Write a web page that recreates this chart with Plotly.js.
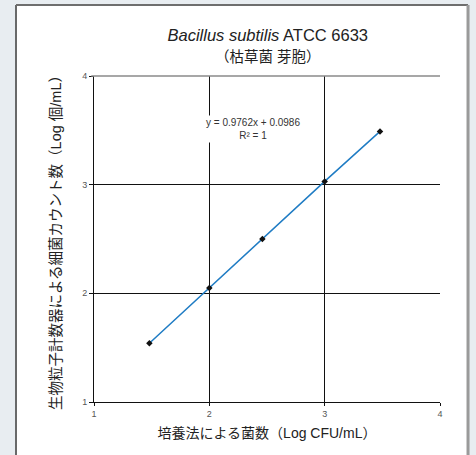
<!DOCTYPE html>
<html>
<head>
<meta charset="utf-8">
<script src="https://cdn.plot.ly/plotly-3.0.1.min.js"></script>
<style>html,body{margin:0;padding:0;background:#e8edf1;}</style>
</head>
<body>
<div id="chart" style="width:476px;height:455px;"></div>
<script>
const cultureLog = [1.48, 2.0, 2.46, 3.0, 3.48];
const counterLog = [1.54, 2.05, 2.50, 3.03, 3.49];
const xTicks = [1, 2, 3, 4];
const yTicks = [1, 2, 3, 4];
const fitLabel = "y = 0.9762x + 0.0986";
const r2Label = "R² = 1";

const FONT = "Liberation Sans, Arial, Noto Sans CJK JP, sans-serif";

const trace = {
  x: cultureLog,
  y: counterLog,
  mode: "lines+markers",
  type: "scatter",
  line: {color: "#1f7cc4", width: 1.5},
  marker: {symbol: "diamond", size: 5, color: "#111"},
  hoverinfo: "x+y",
  showlegend: false
};

const layout = {
  width: 476,
  height: 455,
  margin: {l: 94, r: 36, t: 76, b: 53},
  paper_bgcolor: "#e8edf1",
  plot_bgcolor: "#ffffff",
  font: {family: FONT, color: "#333"},
  title: {
    text: "<i>Bacillus subtilis</i> ATCC 6633<br><span style='font-size:14.5px'>（枯草菌 芽胞）</span>",
    font: {family: FONT, size: 16.5, color: "#222"},
    x: 0.5625, xanchor: "center",
    y: 1 - 41/455, yref: "container", yanchor: "top"
  },
  xaxis: {
    range: [1, 4],
    tickvals: xTicks,
    ticktext: xTicks.map(String),
    showgrid: true, gridcolor: "#111", gridwidth: 1,
    showline: true, linecolor: "#111", linewidth: 1,
    ticks: "outside", ticklen: 3, tickcolor: "#111",
    tickfont: {size: 9, color: "#555"},
    zeroline: false, fixedrange: true,
    title: {text: "培養法による菌数（Log CFU/mL）", font: {family: FONT, size: 14, color: "#222"}, standoff: 10}
  },
  yaxis: {
    range: [1, 4],
    tickvals: yTicks,
    ticktext: yTicks.map(String),
    showgrid: true, gridcolor: "#111", gridwidth: 1,
    showline: true, linecolor: "#111", linewidth: 1,
    ticks: "outside", ticklen: 4, tickcolor: "#111",
    tickfont: {size: 9, color: "#555"},
    zeroline: false, fixedrange: true,
    title: {text: "生物粒子計数器による細菌カウント数（Log 個/mL）", font: {family: FONT, size: 14.5, color: "#222"}, standoff: 17}
  },
  shapes: [
    {type: "rect", xref: "paper", yref: "paper", x0: -0.2254, x1: 1.081, y0: -0.3, y1: 1.2178,
     fillcolor: "#ffffff", line: {width: 0}, layer: "below"},
    {type: "line", xref: "paper", yref: "paper", x0: -0.2254, x1: -0.2254, y0: -0.3, y1: 1.2178,
     line: {color: "#3a3a3a", width: 1.5}, layer: "below"},
    {type: "line", xref: "paper", yref: "paper", x0: -0.2254, x1: 1.081, y0: 1.2178, y1: 1.2178,
     line: {color: "#6e6e6e", width: 2}, layer: "below"},
    {type: "line", xref: "paper", yref: "paper", x0: 1.081, x1: 1.081, y0: -0.3, y1: 1.2178,
     line: {color: "#9a9a9a", width: 3}, layer: "below"},
    {type: "line", xref: "paper", yref: "paper", x0: -0.008, x1: 1, y0: 1, y1: 1,
     line: {color: "#8a8a8a", width: 1.5}, layer: "above"}
  ],
  annotations: [
    {xref: "x", yref: "y", x: 2.38, y: 3.51, text: fitLabel + "<br>" + r2Label,
     showarrow: false, align: "center", font: {family: FONT, size: 10, color: "#333"},
     bgcolor: "#ffffff"}
  ]
};

Plotly.newPlot("chart", [trace], layout, {displayModeBar: false, staticPlot: true});
</script>
</body>
</html>
